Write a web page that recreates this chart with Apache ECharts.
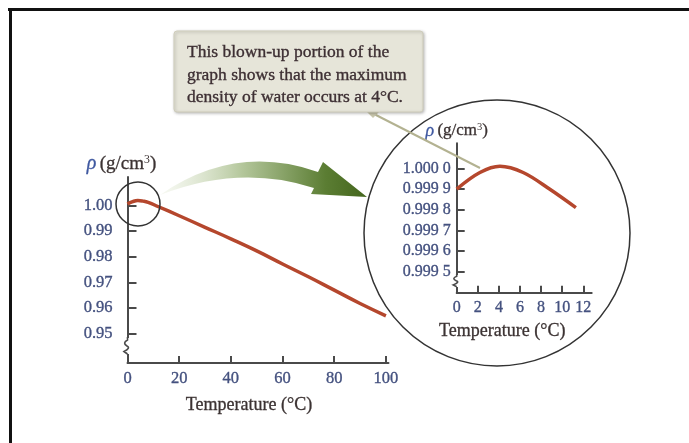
<!DOCTYPE html>
<html>
<head>
<meta charset="utf-8">
<script src="https://cdn.jsdelivr.net/npm/echarts@6.0.0/dist/echarts.min.js"></script>
<style>
  html, body { margin: 0; padding: 0; background: #fff; }
  #chart { width: 689px; height: 443px; }
</style>
</head>
<body>
<div id="chart"></div>
<script>
// main curve (temperature in C, density in g/cm3)
var mainTemps = [0, 2, 4, 6, 8, 12, 20, 30, 40, 50, 60, 70, 80, 90, 100];
var mainDensity = [1.0006, 1.0015, 1.0019, 1.0017, 1.0012, 0.9995, 0.9960, 0.9915, 0.9870, 0.9823, 0.9772, 0.9722, 0.9670, 0.9618, 0.9570];

// blown-up portion
var insetTemps = [0, 2.2, 4.1, 6.3, 8.8, 11.3];
var insetDensity = [0.99990, 0.99998, 1.00001, 0.99998, 0.99990, 0.99981];

// tick labels
var mainXTicks = [0, 20, 40, 60, 80, 100];
var mainYTicks = [0.95, 0.96, 0.97, 0.98, 0.99, 1.00];
var insetXTicks = [0, 2, 4, 6, 8, 10, 12];
var insetYTicks = [0.9995, 0.9996, 0.9997, 0.9998, 0.9999, 1.0000];

var calloutText = 'This blown-up portion of the\ngraph shows that the maximum\ndensity of water occurs at 4°C.';

var serif = 'Liberation Serif';
var tickColor = '#44517f';
var titleColor = '#3b3232';
var axisColor = '#4a4a4a';
var curveColor = '#b5472d';

// curved green arrow between the two magnifier circles
echarts.graphic.registerShape('greenArrow', echarts.graphic.extendShape({
    shape: {},
    buildPath: function (ctx) {
        ctx.moveTo(160, 195);
        ctx.quadraticCurveTo(235, 143, 318, 172);
        ctx.lineTo(323, 162);
        ctx.lineTo(367, 197);
        ctx.lineTo(311, 194);
        ctx.lineTo(314, 188);
        ctx.quadraticCurveTo(240, 164, 160, 195);
        ctx.closePath();
    }
}));

// little zigzag that marks a broken axis
echarts.graphic.registerShape('axisBreak', echarts.graphic.extendShape({
    shape: { x: 0, y: 0, h: 16 },
    buildPath: function (ctx, s) {
        var k = s.h / 16;
        ctx.moveTo(s.x, s.y);
        ctx.lineTo(s.x, s.y + 3 * k);
        ctx.quadraticCurveTo(s.x - 5.5, s.y + 6 * k, s.x - 0.5, s.y + 9 * k);
        ctx.quadraticCurveTo(s.x + 3.5, s.y + 11 * k, s.x - 3.5, s.y + 14.5 * k);
        ctx.lineTo(s.x, s.y + 17 * k);
    }
}));

function pairs(xs, ys) {
    var out = [];
    for (var i = 0; i < xs.length; i++) out.push([xs[i], ys[i]]);
    return out;
}

function yName(size, pad) {
    return {
        name: '{r|ρ} {t|(g/cm}{s|3}{t|)}',
        nameLocation: 'end',
        nameTextStyle: {
            padding: pad,
            rich: {
                r: { fontFamily: serif, fontStyle: 'italic', fontSize: size + 1, color: '#3f58a0', textBorderColor: '#3f58a0', textBorderWidth: 0.3 },
                t: { fontFamily: serif, fontSize: size, color: titleColor, textBorderColor: titleColor, textBorderWidth: 0.3 },
                s: { fontFamily: serif, fontSize: size * 0.62, color: titleColor, verticalAlign: 'top', padding: [0, 0, size * 0.45, 0] }
            }
        }
    };
}

function tickFont(size) {
    return { fontFamily: serif, fontSize: size, color: tickColor, textBorderColor: tickColor, textBorderWidth: 0.35 };
}

function titleFont(size, pad) {
    return { fontFamily: serif, fontSize: size, color: titleColor, textBorderColor: titleColor, textBorderWidth: 0.3, padding: pad };
}

var chart = echarts.init(document.getElementById('chart'));

var option = {
    backgroundColor: '#fff',
    animation: false,
    grid: [
        { left: 127.5, top: 177, width: 261, height: 186 },
        { left: 456.7, top: 143.3, width: 135, height: 149.4 }
    ],
    xAxis: [
        {
            gridIndex: 0, type: 'value', min: 0, max: 101,
            name: 'Temperature (°C)', nameLocation: 'middle', nameGap: 33,
            nameTextStyle: titleFont(18, [0, 18, 0, 0]),
            axisLine: { lineStyle: { color: axisColor, width: 2 } },
            axisTick: { inside: true, length: 7, customValues: mainXTicks, lineStyle: { color: axisColor, width: 2 } },
            axisLabel: Object.assign({ customValues: mainXTicks, margin: 7 }, tickFont(16.5)),
            splitLine: { show: false }
        },
        {
            gridIndex: 1, type: 'value', min: 0, max: 12.8,
            name: 'Temperature (°C)', nameLocation: 'middle', nameGap: 30,
            nameTextStyle: titleFont(18, [0, 44, 0, 0]),
            axisLine: { lineStyle: { color: axisColor, width: 2 } },
            axisTick: { inside: true, length: 7, customValues: insetXTicks, lineStyle: { color: axisColor, width: 2 } },
            axisLabel: Object.assign({ customValues: insetXTicks, margin: 7 }, tickFont(16)),
            splitLine: { show: false }
        }
    ],
    yAxis: [
        Object.assign(yName(19, [0, 12, 0, 0]), {
            gridIndex: 0, type: 'value', min: 0.9386, max: 1.0111,
            nameGap: 3,
            axisLine: { show: true, lineStyle: { color: axisColor, width: 2 } },
            axisTick: { show: true, inside: true, length: 9, customValues: mainYTicks, lineStyle: { color: axisColor, width: 2 } },
            axisLabel: Object.assign({
                customValues: mainYTicks, margin: 15,
                formatter: function (v) { return v.toFixed(2); }
            }, tickFont(16.5)),
            splitLine: { show: false }
        }),
        Object.assign(yName(17, [0, 0, 0, 0]), {
            gridIndex: 1, type: 'value', min: 0.999399, max: 1.000121,
            nameGap: 3,
            axisLine: { show: true, lineStyle: { color: axisColor, width: 2 } },
            axisTick: { show: true, inside: true, length: 8, customValues: insetYTicks, lineStyle: { color: axisColor, width: 2 } },
            axisLabel: Object.assign({
                customValues: insetYTicks, margin: 6,
                formatter: function (v) {
                    var s = v.toFixed(4);
                    return s.slice(0, 5) + ' ' + s.slice(5);
                }
            }, tickFont(16)),
            splitLine: { show: false }
        })
    ],
    series: [
        {
            type: 'line', xAxisIndex: 0, yAxisIndex: 0,
            data: pairs(mainTemps, mainDensity),
            smooth: 0.5, showSymbol: false,
            lineStyle: { color: curveColor, width: 3.5 }
        },
        {
            type: 'line', xAxisIndex: 1, yAxisIndex: 1,
            data: pairs(insetTemps, insetDensity),
            smooth: 0.35, showSymbol: false,
            lineStyle: { color: curveColor, width: 3.5 }
        }
    ],
    graphic: [
        // page frame (top and left edges only)
        { type: 'rect', shape: { x: 8, y: 8, width: 681, height: 3 }, style: { fill: '#111' } },
        { type: 'rect', shape: { x: 9, y: 8, width: 3, height: 435 }, style: { fill: '#111' } },
        // magnifier circles
        { type: 'circle', shape: { cx: 138, cy: 204, r: 22 }, style: { fill: null, stroke: '#333', lineWidth: 1.5 }, z: 10 },
        { type: 'circle', shape: { cx: 497, cy: 233, r: 133 }, style: { fill: null, stroke: '#333', lineWidth: 1.5 }, z: 10 },
        // green arrow
        {
            type: 'greenArrow', z: 10,
            style: {
                fill: {
                    type: 'linear', x: 160, y: 0, x2: 367, y2: 0, global: true,
                    colorStops: [
                        { offset: 0, color: 'rgba(240,244,232,0.5)' },
                        { offset: 0.4, color: '#b3c69a' },
                        { offset: 0.8, color: '#5b7d33' },
                        { offset: 1, color: '#44661d' }
                    ]
                }
            }
        },
        // axis breaks
        { type: 'rect', z: 11, shape: { x: 122, y: 338, width: 10, height: 16 }, style: { fill: '#fff' } },
        { type: 'axisBreak', z: 12, shape: { x: 127.5, y: 337, h: 16 }, style: { fill: null, stroke: axisColor, lineWidth: 1.6 } },
        { type: 'rect', z: 11, shape: { x: 451, y: 275, width: 10, height: 12 }, style: { fill: '#fff' } },
        { type: 'axisBreak', z: 12, shape: { x: 456.7, y: 274, h: 12 }, style: { fill: null, stroke: axisColor, lineWidth: 1.6 } },
        // callout pointer
        { type: 'line', z: 12, shape: { x1: 372, y1: 113, x2: 480, y2: 168 }, style: { stroke: '#b3b291', lineWidth: 2 } },
        { type: 'polygon', z: 13, shape: { points: [[366, 111], [380, 111], [373, 118]] }, style: { fill: '#c9c7ad' } },
        // callout box
        {
            type: 'rect', z: 13,
            shape: { x: 174, y: 31, width: 249, height: 81, r: 3 },
            style: { fill: '#e6e5d9', stroke: '#cfcdbb', lineWidth: 1, shadowBlur: 3, shadowColor: 'rgba(0,0,0,0.25)', shadowOffsetX: 1, shadowOffsetY: 1 }
        },
        {
            type: 'text', z: 14, x: 187, y: 41.5,
            style: {
                text: calloutText, font: '17.5px "Liberation Serif"', fill: '#3d2f33',
                stroke: '#3d2f33', lineWidth: 0.35, lineHeight: 22.5, verticalAlign: 'top'
            }
        }
    ]
};

chart.setOption(option);

window.addEventListener('resize', function () {
    chart.resize();
});
</script>
</body>
</html>
